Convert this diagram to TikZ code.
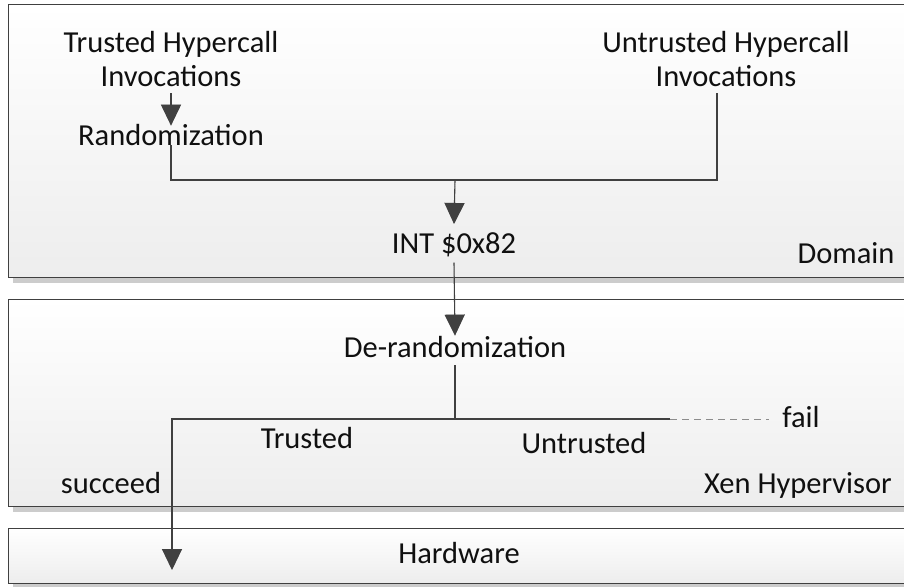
\documentclass[tikz,border=0pt]{standalone}
\usepackage{fontspec}
\setmainfont{Carlito}
\usetikzlibrary{arrows.meta,calc}
\definecolor{linec}{HTML}{404040}
\definecolor{txt}{HTML}{101010}
\tikzset{
  lbl/.style={font=\fontsize{30.5}{34}\selectfont, text=txt, inner sep=0pt, anchor=base},
  conn/.style={draw=linec, line width=1.1pt},
  arr/.style={conn, -{Triangle[width=20pt,length=21pt]}},
  sarr/.style={draw=black!22, line width=1pt, densely dotted, -{Triangle[width=20pt,length=21pt,color=black!25,fill=black!25]}},
  sconn/.style={draw=black!22, line width=1pt, densely dotted},
  layer/.style={draw=linec, line width=1pt, top color=white, bottom color=black!7},
  layshadow/.style={fill=black!20},
}
\begin{document}
\begin{tikzpicture}[x=1pt,y=-1pt]
\useasboundingbox (0,0) rectangle (904,586);
% layer shadows and boxes
\fill[layshadow] (13,277) rectangle (915,283);
\path[layer] (8,5) rectangle (915,277);
\fill[layshadow] (13,506) rectangle (915,512);
\path[layer] (8,299) rectangle (915,506);
\fill[layshadow] (13,583) rectangle (915,589);
\path[layer] (8,528) rectangle (915,583);

% labels
\node[lbl, align=center] (tinv) at (171,86) {Trusted Hypercall\\Invocations};
\node[lbl, align=center] (uinv) at (726,86) {Untrusted Hypercall\\Invocations};
\node[lbl] (rand) at (171,145) {Randomization};
\node[lbl] (int) at (454,253) {INT \$0x82};
\node[lbl] (dom) at (846,263) {Domain};
\node[lbl] (derand) at (455,357) {De-randomization};
\node[lbl] (fail) at (801,427) {fail};
\node[lbl] (trusted) at (307,448) {Trusted};
\node[lbl] (untrusted) at (584,453) {Untrusted};
\node[lbl] (succ) at (111,493) {succeed};
\node[lbl] (xen) at (798,493) {Xen Hypervisor};
\node[lbl] (hw) at (459,563) {Hardware};

% junction coordinates
\coordinate (m) at (455,180);
\coordinate (s) at (455,419);
\coordinate (d) at (670,419);
\coordinate (hwin) at (172,570);

% connector shadows
\begin{scope}[shift={(6,3)}]
  \draw[sarr] ([yshift=-7pt]tinv.south) -- ([yshift=-2pt]rand.north);
  \draw[sconn] (rand.south) |- (m);
  \draw[sconn] ([xshift=-9pt,yshift=-7pt]uinv.south) |- (m);
  \draw[sarr] (m) -- ([yshift=8pt]int.north);
  \draw[sarr] ([yshift=-6pt]int.south) -- (derand.north);
  \draw[sconn] ([yshift=-8pt]derand.south) -- (s);
  \draw[sarr] (s) -| (hwin);
  \draw[sconn] (s) -- (d);
\end{scope}

% connectors
\draw[arr] ([yshift=-7pt]tinv.south) -- ([yshift=-2pt]rand.north);
\draw[conn] (rand.south) |- (m);
\draw[conn] ([xshift=-9pt,yshift=-7pt]uinv.south) |- (m);
\draw[arr] (m) -- ([yshift=8pt]int.north);
\draw[arr] ([yshift=-6pt]int.south) -- (derand.north);
\draw[conn] ([yshift=-8pt]derand.south) -- (s);
\draw[arr] (s) -| (hwin);
\draw[conn] (s) -- (d);
\draw[draw=black!45, line width=1pt, dash pattern=on 7pt off 5pt] (d) -- ([xshift=-13pt]fail.west |- d);
\end{tikzpicture}
\end{document}
